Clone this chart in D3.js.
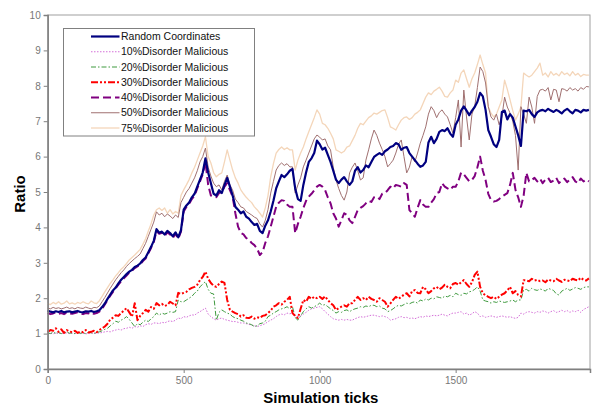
<!DOCTYPE html>
<html>
<head>
<meta charset="utf-8">
<script src="https://cdn.jsdelivr.net/npm/d3@7"></script>
<style>
  html, body { margin: 0; padding: 0; background: #fff; }
  svg { display: block; }
</style>
</head>
<body>
<svg id="chart" width="592" height="405"></svg>
<script>
// Simulation ticks sampled every 10 ticks (0 .. 1990)
const tickStep = 10;
const xTickValues = [0, 500, 1000, 1500];
const yTickValues = [0, 1, 2, 3, 4, 5, 6, 7, 8, 9, 10];

const seriesNames = [
  "Random Coordinates",
  "10%Disorder Malicious",
  "20%Disorder Malicious",
  "30%Disorder Malicious",
  "40%Disorder Malicious",
  "50%Disorder Malicious",
  "75%Disorder Malicious"
];

const randomCoordinates = [
  1.65,1.62,1.60,1.63,1.61,1.64,1.60,1.62,1.63,1.60,
  1.62,1.64,1.61,1.60,1.63,1.62,1.64,1.61,1.63,1.66,
  1.75,1.85,1.98,2.10,2.22,2.30,2.42,2.52,2.60,2.68,
  2.75,2.80,2.88,2.92,2.98,3.08,3.15,3.30,3.45,3.62,
  3.95,3.85,3.88,3.80,3.90,3.84,3.75,3.86,3.72,3.92,
  4.50,4.62,4.70,4.85,4.95,5.15,5.35,5.55,5.95,5.55,
  5.25,4.95,4.90,5.05,4.97,5.20,5.40,5.15,4.90,4.58,
  4.50,4.40,4.45,4.30,4.25,4.15,4.07,4.10,3.90,3.84,
  4.05,4.20,4.45,4.75,5.10,5.30,5.48,5.42,5.50,5.60,
  5.65,5.10,4.80,4.75,5.20,5.55,5.85,5.95,6.10,6.45,
  6.35,6.20,6.25,6.05,5.85,5.60,5.35,5.25,5.35,5.42,
  5.30,5.20,5.30,5.60,5.70,5.55,5.62,5.75,5.70,5.85,
  5.99,6.05,6.10,6.05,6.15,6.20,6.27,6.30,6.38,6.35,
  6.19,6.25,6.27,6.10,6.00,5.90,5.80,5.71,5.75,5.85,
  6.40,6.56,6.38,6.50,6.70,6.75,6.72,6.80,6.65,6.56,
  6.90,7.05,7.30,7.42,7.30,7.17,7.30,7.40,7.55,7.80,
  7.70,7.32,6.75,6.56,6.35,6.27,6.47,7.26,7.30,7.05,
  7.20,7.10,6.85,6.60,6.30,7.30,7.28,7.32,7.20,7.12,
  7.25,7.30,7.32,7.28,7.35,7.30,7.26,7.32,7.28,7.22,
  7.30,7.35,7.28,7.22,7.32,7.30,7.25,7.32,7.30,7.32
];

const disorder10 = [
  1.00,1.01,0.99,1.02,1.00,1.01,1.00,1.02,1.00,1.01,
  1.00,1.02,1.00,1.01,0.99,1.01,1.02,1.00,1.01,1.02,
  1.03,1.05,1.06,1.05,1.08,1.10,1.12,1.10,1.14,1.15,
  1.18,1.15,1.20,1.18,1.22,1.20,1.25,1.28,1.26,1.30,
  1.30,1.28,1.32,1.30,1.34,1.36,1.34,1.38,1.44,1.42,
  1.48,1.46,1.50,1.53,1.52,1.58,1.62,1.67,1.72,1.55,
  1.48,1.42,1.38,1.42,1.44,1.40,1.38,1.36,1.34,1.34,
  1.32,1.30,1.30,1.28,1.26,1.24,1.22,1.20,1.22,1.25,
  1.28,1.34,1.38,1.42,1.48,1.53,1.55,1.53,1.58,1.56,
  1.58,1.52,1.48,1.50,1.55,1.60,1.66,1.70,1.72,1.74,
  1.76,1.70,1.62,1.55,1.48,1.42,1.40,1.38,1.40,1.38,
  1.40,1.38,1.38,1.42,1.45,1.48,1.46,1.48,1.50,1.52,
  1.52,1.50,1.48,1.50,1.48,1.45,1.38,1.40,1.42,1.46,
  1.48,1.45,1.46,1.43,1.44,1.42,1.45,1.48,1.46,1.50,
  1.48,1.50,1.52,1.50,1.52,1.55,1.52,1.50,1.55,1.58,
  1.58,1.60,1.62,1.55,1.58,1.52,1.56,1.62,1.58,1.48,
  1.50,1.46,1.48,1.50,1.48,1.46,1.48,1.50,1.48,1.46,
  1.48,1.45,1.43,1.46,1.58,1.55,1.60,1.62,1.60,1.58,
  1.62,1.60,1.64,1.62,1.58,1.62,1.65,1.60,1.62,1.66,
  1.62,1.65,1.60,1.64,1.62,1.66,1.60,1.68,1.72,1.76
];

const disorder20 = [
  1.02,1.00,1.04,1.01,1.03,1.00,1.02,1.05,1.01,1.02,
  1.00,1.03,1.01,1.02,1.00,1.04,1.02,1.01,1.03,1.05,
  1.08,1.12,1.15,1.22,1.28,1.35,1.32,1.38,1.42,1.48,
  1.40,1.30,1.20,1.28,1.25,1.32,1.38,1.34,1.42,1.48,
  1.58,1.52,1.58,1.55,1.58,1.62,1.60,1.62,1.95,1.90,
  1.90,1.95,2.00,2.05,2.14,2.20,2.32,2.40,2.47,2.25,
  2.14,2.12,1.38,1.60,1.67,1.62,1.58,1.55,1.48,1.44,
  1.42,1.38,1.35,1.30,1.28,1.25,1.20,1.22,1.28,1.30,
  1.35,1.48,1.52,1.58,1.62,1.67,1.70,1.72,1.76,1.70,
  1.76,1.45,1.38,1.50,1.62,1.70,1.76,1.72,1.76,1.80,
  1.86,1.80,1.82,1.76,1.70,1.65,1.58,1.62,1.60,1.65,
  1.67,1.62,1.67,1.70,1.72,1.76,1.74,1.78,1.76,1.80,
  1.80,1.76,1.78,1.72,1.70,1.62,1.65,1.70,1.76,1.80,
  1.78,1.82,1.86,1.84,1.88,1.90,1.86,1.95,1.92,1.98,
  1.95,2.00,1.98,2.04,2.02,2.00,2.06,2.04,2.08,2.04,
  2.14,2.10,2.08,2.14,2.12,2.18,2.20,2.25,2.32,2.20,
  1.95,1.92,1.90,1.86,1.90,1.88,1.92,1.90,1.88,1.90,
  1.92,1.95,1.90,1.95,1.95,2.23,2.25,2.20,2.28,2.24,
  2.22,2.26,2.24,2.20,2.28,2.25,2.22,2.12,2.09,2.20,
  2.24,2.28,2.22,2.26,2.30,2.28,2.25,2.30,2.32,2.32
];

const disorder30 = [
  1.05,1.10,1.08,1.15,1.05,1.12,1.02,1.10,1.06,1.04,
  1.08,1.02,1.06,1.04,1.10,1.03,1.05,1.08,1.04,1.10,
  1.15,1.20,1.28,1.40,1.45,1.52,1.50,1.58,1.65,1.72,
  1.60,1.48,1.86,1.38,1.50,1.58,1.67,1.62,1.75,1.70,
  1.86,1.80,1.84,1.78,1.81,1.90,1.85,1.80,2.15,2.12,
  2.15,2.18,2.25,2.29,2.32,2.38,2.51,2.60,2.75,2.55,
  2.43,2.35,2.32,2.40,2.47,2.43,1.95,1.67,1.62,1.58,
  1.55,1.48,1.52,1.45,1.44,1.48,1.42,1.46,1.44,1.50,
  1.52,1.58,1.65,1.76,1.80,1.86,1.82,1.90,1.95,2.04,
  1.58,1.50,1.44,1.70,1.95,1.90,2.04,1.98,2.04,2.00,
  2.04,1.98,2.05,1.95,1.86,1.80,1.67,1.72,1.76,1.80,
  1.76,1.86,1.86,1.95,2.04,1.95,2.00,1.95,2.04,1.98,
  1.95,1.90,2.00,1.95,1.90,1.76,1.85,1.95,2.04,1.98,
  2.04,2.10,2.14,2.05,2.20,2.23,2.15,2.14,2.32,2.25,
  2.14,2.20,2.28,2.32,2.25,2.30,2.38,2.32,2.28,2.40,
  2.43,2.38,2.45,2.51,2.40,2.32,2.45,2.66,2.75,2.32,
  2.14,2.08,2.04,2.00,2.04,1.98,2.04,2.10,2.14,2.22,
  2.32,2.14,2.20,2.09,2.05,2.51,2.50,2.48,2.55,2.50,
  2.52,2.48,2.50,2.45,2.53,2.50,2.48,2.55,2.50,2.46,
  2.52,2.50,2.48,2.55,2.52,2.50,2.58,2.52,2.50,2.56
];

const disorder40 = [
  1.58,1.55,1.57,1.60,1.56,1.58,1.55,1.59,1.57,1.56,
  1.58,1.60,1.56,1.55,1.58,1.57,1.60,1.56,1.58,1.62,
  1.70,1.82,1.95,2.07,2.18,2.28,2.38,2.48,2.56,2.64,
  2.72,2.78,2.85,2.90,2.95,3.05,3.12,3.27,3.42,3.58,
  3.90,3.82,3.85,3.76,3.86,3.80,3.70,3.82,3.68,3.88,
  4.45,4.58,4.66,4.80,4.90,5.10,5.30,5.50,5.85,5.20,
  4.90,4.87,4.85,4.97,5.00,5.15,5.25,5.05,4.87,4.40,
  4.02,3.84,3.80,3.70,3.65,3.56,3.50,3.40,3.22,3.30,
  3.56,3.75,4.02,4.30,4.58,4.70,4.77,4.75,4.65,4.58,
  4.58,3.84,4.10,4.30,4.55,4.75,4.87,4.95,5.05,5.15,
  5.20,5.15,5.05,4.85,4.68,4.40,4.25,4.02,4.20,4.40,
  4.35,4.20,4.12,4.30,4.49,4.55,4.60,4.68,4.75,4.72,
  4.85,4.87,4.80,4.95,4.97,5.05,5.15,5.10,5.20,5.18,
  5.15,5.25,5.20,4.49,4.40,4.30,4.55,4.77,4.65,4.58,
  4.58,4.70,4.80,4.97,5.00,5.25,5.15,5.10,5.06,5.15,
  5.15,5.30,5.55,5.50,5.40,5.30,5.34,5.45,5.70,6.00,
  5.60,5.34,4.95,4.77,4.73,4.75,4.80,4.87,4.92,4.97,
  5.20,5.54,5.06,4.85,4.58,4.90,5.54,5.30,5.34,5.40,
  5.30,5.38,5.25,5.35,5.40,5.28,5.32,5.40,5.25,5.33,
  5.38,5.28,5.35,5.42,5.30,5.25,5.38,5.30,5.35,5.30
];

const disorder50 = [
  1.72,1.70,1.74,1.71,1.73,1.70,1.72,1.75,1.71,1.73,
  1.70,1.74,1.72,1.71,1.75,1.72,1.70,1.74,1.73,1.78,
  1.90,2.02,2.15,2.28,2.40,2.52,2.62,2.72,2.80,2.90,
  2.98,3.05,3.12,3.18,3.25,3.40,3.55,3.75,3.95,4.15,
  4.44,4.35,4.40,4.30,4.38,4.32,4.25,4.35,4.28,4.70,
  4.85,5.00,5.10,5.25,5.40,5.60,5.85,6.00,6.24,5.70,
  5.45,5.25,5.15,5.20,5.06,5.30,5.48,5.20,5.05,4.80,
  4.70,4.58,4.55,4.45,4.40,4.35,4.29,4.25,4.10,4.01,
  4.20,4.50,4.97,5.30,5.62,5.75,5.82,5.75,5.80,5.71,
  5.71,4.97,5.20,5.40,5.71,5.90,6.10,6.30,6.50,6.61,
  6.55,6.47,6.50,6.30,6.19,5.70,5.34,5.10,4.90,4.77,
  5.00,5.54,5.70,5.82,5.60,5.34,5.40,5.90,6.19,6.50,
  6.75,6.60,6.38,6.20,6.00,5.71,5.80,5.90,6.10,6.35,
  6.47,6.00,5.54,5.70,6.00,5.85,6.10,6.38,6.60,6.84,
  7.20,7.41,7.30,7.10,7.25,7.32,7.20,7.12,6.90,6.66,
  7.10,7.60,6.27,7.88,7.12,6.47,7.20,7.41,7.95,8.53,
  8.40,8.08,7.41,7.12,7.03,7.20,6.90,7.12,7.68,7.40,
  7.23,7.00,6.60,5.62,7.41,7.20,6.94,7.68,7.40,6.94,
  7.70,7.88,7.90,7.85,7.95,7.60,7.90,7.88,7.55,7.92,
  7.90,7.85,7.95,7.88,7.92,7.85,7.95,7.90,7.98,7.97
];

const disorder75 = [
  1.85,1.82,1.88,1.84,1.90,1.83,1.86,1.92,1.84,1.87,
  1.83,1.88,1.85,1.90,1.86,1.84,1.92,1.87,1.85,1.93,
  2.05,2.18,2.30,2.42,2.52,2.63,2.72,2.82,2.89,2.98,
  3.08,3.15,3.22,3.30,3.38,3.52,3.68,3.90,4.10,4.35,
  4.50,4.55,4.48,4.55,4.40,4.50,4.38,4.45,4.40,4.90,
  5.06,5.20,5.35,5.54,5.70,5.90,6.10,6.30,6.56,6.00,
  5.82,5.55,5.43,5.50,5.54,5.85,6.19,5.90,5.62,5.40,
  5.25,5.06,4.95,4.85,4.77,4.70,4.58,4.50,4.40,4.29,
  4.55,4.90,5.43,5.80,6.10,6.20,6.27,6.20,6.25,6.19,
  6.19,5.62,5.90,6.10,6.27,6.50,6.70,6.90,7.10,7.32,
  7.20,6.94,6.90,6.80,6.66,6.50,6.19,6.15,6.10,6.15,
  6.27,6.30,6.45,6.60,6.80,6.94,6.90,7.00,7.10,7.15,
  7.23,7.20,7.25,7.30,7.32,7.10,6.84,6.80,6.75,6.90,
  7.03,7.10,7.12,7.05,7.10,7.20,7.25,7.32,7.50,7.68,
  7.80,7.75,7.85,7.90,7.96,7.85,7.70,7.68,7.80,7.88,
  8.16,8.10,8.36,8.45,8.20,7.96,8.20,8.36,8.60,8.87,
  8.60,8.36,7.41,7.23,7.12,7.20,7.40,7.60,8.16,7.90,
  7.60,7.30,7.03,7.20,7.40,8.36,8.30,8.25,8.30,8.40,
  8.50,8.64,8.30,8.36,8.25,8.40,8.30,8.35,8.28,8.40,
  8.32,8.36,8.28,8.40,8.30,8.35,8.26,8.32,8.30,8.30
];

const seriesValues = [
  randomCoordinates, disorder10, disorder20, disorder30,
  disorder40, disorder50, disorder75
];

// Line styles per series, in legend order
const styles = [
  { color: "#000080", width: 2.2, dash: null },
  { color: "#D46FD8", width: 1,   dash: "1.5,1.5" },
  { color: "#3F9A3F", width: 1,   dash: "5,2,1.5,2" },
  { color: "#FF0000", width: 2,   dash: "7,2,2,2,2,2" },
  { color: "#800080", width: 2,   dash: "8,4" },
  { color: "#A07070", width: 1,   dash: null },
  { color: "#F4D6BA", width: 1.3, dash: null }
];

const svg = d3.select("#chart");
const plot = { left: 47.7, right: 590, top: 15, bottom: 369 };
const font = "Arial, 'Liberation Sans', sans-serif";

const x = d3.scaleLinear().domain([0, 1994]).range([plot.left, plot.right]);
const y = d3.scaleLinear().domain([0, 10]).range([plot.bottom, plot.top]);

// Plot frame
svg.append("rect")
  .attr("x", plot.left).attr("y", plot.top)
  .attr("width", plot.right - plot.left).attr("height", plot.bottom - plot.top)
  .attr("fill", "none").attr("stroke", "#a0a0a0").attr("stroke-width", 1);

// Series lines (drawn last-to-first so the baseline sits on top)
const line = d3.line()
  .x((d, i) => x(i * tickStep))
  .y(d => y(d));

const order = [6, 5, 1, 2, 3, 4, 0];
order.forEach(k => {
  const s = styles[k];
  svg.append("path")
    .datum(seriesValues[k])
    .attr("d", line)
    .attr("fill", "none")
    .attr("stroke", s.color)
    .attr("stroke-width", s.width)
    .attr("stroke-linejoin", "round")
    .attr("stroke-dasharray", s.dash);
});

// Axes
const yAxis = d3.axisLeft(y).tickValues(yTickValues).tickSize(4).tickPadding(3);
const gy = svg.append("g").attr("transform", `translate(${plot.left},0)`).call(yAxis);
const xAxis = d3.axisBottom(x).tickValues(xTickValues)
  .tickFormat(d3.format("d")).tickSize(4).tickPadding(4);
const gx = svg.append("g").attr("transform", `translate(0,${plot.bottom})`).call(xAxis);

[gy, gx].forEach(g => {
  g.select(".domain").attr("stroke", "#808080").attr("stroke-width", 1.5);
  g.selectAll(".tick line").attr("stroke", "#808080");
  g.selectAll(".tick text")
    .attr("fill", "#777")
    .style("font-family", font)
    .style("font-size", "10px");
});

// Axis titles
svg.append("text")
  .attr("x", (plot.left + plot.right) / 2 + 2).attr("y", 403)
  .attr("text-anchor", "middle")
  .style("font-family", font)
  .style("font-size", "15px").style("font-weight", "bold")
  .attr("fill", "#000")
  .text("Simulation ticks");

svg.append("text")
  .attr("transform", "translate(25,194) rotate(-90)")
  .attr("text-anchor", "middle")
  .style("font-family", font)
  .style("font-size", "15px").style("font-weight", "bold")
  .attr("fill", "#000")
  .text("Ratio");

// Legend
const legend = svg.append("g");
legend.append("rect")
  .attr("x", 63.5).attr("y", 28.5).attr("width", 191).attr("height", 107.5)
  .attr("fill", "#fff").attr("stroke", "#808080").attr("stroke-width", 1);

seriesNames.forEach((name, i) => {
  const ly = 36.5 + i * 15.25;
  const s = styles[i];
  legend.append("line")
    .attr("x1", 91).attr("x2", 119.5).attr("y1", ly).attr("y2", ly)
    .attr("stroke", s.color).attr("stroke-width", s.width)
    .attr("stroke-dasharray", s.dash);
  legend.append("text")
    .attr("x", 121).attr("y", ly).attr("dy", "0.35em")
    .style("font-family", font)
    .style("font-size", "10.5px")
    .attr("fill", "#111")
    .text(name);
});
</script>
</body>
</html>
